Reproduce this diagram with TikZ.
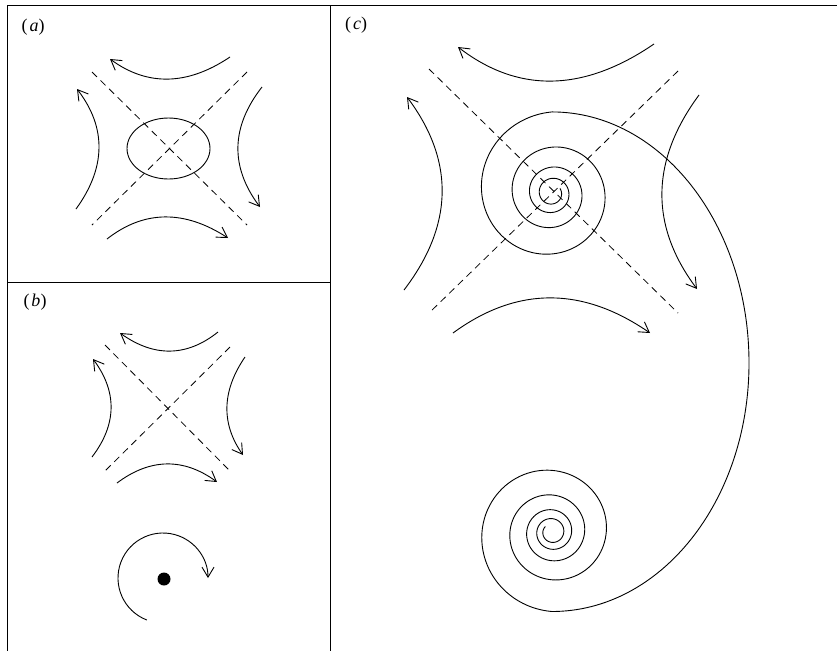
\documentclass[tikz,border=0pt]{standalone}
\usepackage{fontspec}
\setmainfont{Liberation Serif}
\usetikzlibrary{arrows.meta}
\tikzset{
  frameline/.style={line width=0.9pt},
  sepline/.style={line width=0.8pt, dash pattern=on 7pt off 5pt},
  orbitline/.style={line width=0.9pt},
  flowarr/.style={line width=0.9pt,
    -{Straight Barb[length=10pt,width=12pt]}},
  panellabel/.style={font=\fontsize{18}{20}\selectfont, inner sep=0pt},
}

\begin{document}
\begin{tikzpicture}[x=1pt, y=-1pt]
  \useasboundingbox (0,0) rectangle (837,651);
  % Frame of the three panels
  \draw[frameline] (837,5) -- (7,5) -- (7,651);
  \draw[frameline] (330,5) -- (330,651);
  \draw[frameline] (7,282) -- (330,282);
  % Panel labels
  \node[panellabel] at (33,27)  (labA) {(\kern2pt\textit{a})};
  \node[panellabel] at (35,302) (labB) {(\kern2pt\textit{b})};
  \node[panellabel] at (356,25) (labC) {(\kern2pt\textit{c})};
  % (a): saddle with closed orbit
  \draw[sepline] (92,72) -- (247,225);
  \draw[sepline] (247,72) -- (92,225);
  \draw[orbitline] (168.5,148.5) ellipse [x radius=41.5, y radius=30.5];
  \draw[flowarr] (230,57) .. controls (187.3,85.7) and (147.3,86.3) .. (110,59);
  \draw[flowarr] (107,239) .. controls (144,210) and (184.3,209.7) .. (228,238);
  \draw[flowarr] (76,209) .. controls (106,167.7) and (106.7,127.7) .. (77,89);
  \draw[flowarr] (262,87) .. controls (230.7,127) and (230,167) .. (260,207);
  % (b): saddle, and a point with its rotation
  \draw[sepline] (105,345) -- (230,471);
  \draw[sepline] (230,347) -- (105,471);
  \draw[flowarr] (218,332) .. controls (186.7,357) and (154,357.3) .. (120,333);
  \draw[flowarr] (117,483) .. controls (150.3,458) and (183.7,457.7) .. (217,482);
  \draw[flowarr] (92,457) .. controls (117,424.3) and (117.3,391.7) .. (93,359);
  \draw[flowarr] (245,357) .. controls (221.7,391) and (221,423.7) .. (243,455);
  \fill (164,579) circle [radius=6.5];
  \draw[flowarr] (163,578) ++(111:45) arc [start angle=111, end angle=360, radius=45];
  % (c): saddle, orbit spiralling from one focus to the other
  \draw[sepline] (429,69) -- (678,313);
  \draw[sepline] (678,71) -- (429,313);
  \draw[flowarr] (654,44) .. controls (583.3,92.3) and (518,93.3) .. (458,47);
  \draw[flowarr] (453,333) .. controls (516.7,286.3) and (582.3,286.3) .. (650,333);
  \draw[flowarr] (404,290) .. controls (453.7,225) and (454.7,160.7) .. (407,97);
  \draw[flowarr] (699,95) .. controls (650.3,161) and (649.7,225.7) .. (697,289);
  \draw[orbitline]
    plot[smooth, domain=330:1710, samples=360, variable=\t]
      ({552+12.7*exp(0.2852*(\t-540)/180)*cos(\t)},
       {193+12.7*exp(0.2852*(\t-540)/180)*sin(\t)})
    .. controls (661,112) and (749,224.5) .. (749,363)
    .. controls (749,500.5) and (661,611.5) .. (552,611.5)
    -- plot[smooth, domain=90:1660, samples=420, variable=\t]
      ({552+70*exp(-0.2546*(\t-180)/180)*cos(\t)},
       {532+70*exp(-0.2546*(\t-180)/180)*sin(\t)});
\end{tikzpicture}
\end{document}
